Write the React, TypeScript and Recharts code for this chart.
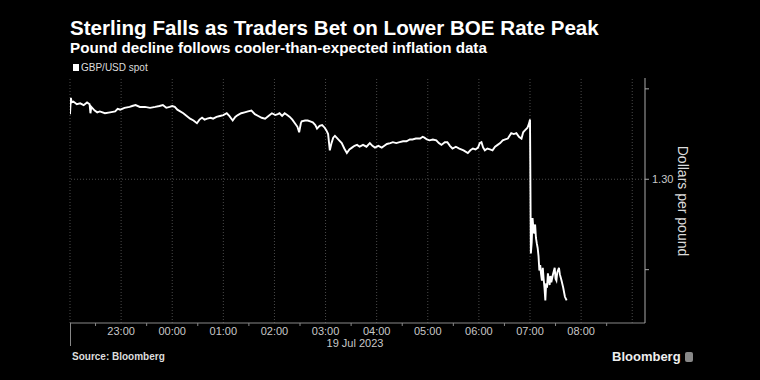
import React from 'react';
import { LineChart, Line, XAxis, YAxis, ReferenceLine } from 'recharts';

// minutes after 22:00 on 18 Jul 2023 (London time)
const minutesFrom2200 = [
  0, 1, 2, 4, 8, 12, 16, 20, 23, 24, 25, 29, 32, 35, 41, 47, 53, 56, 59, 64,
  70, 73, 77, 82, 88, 94, 100, 105, 109, 113, 117, 120, 123, 126, 133, 137, 141, 145, 149, 152,
  155, 158, 161, 165, 168, 172, 176, 180, 184, 187, 191, 194, 197, 201, 205, 209, 213, 217, 221, 225,
  229, 233, 237, 241, 244, 246, 249, 252, 255, 258, 261, 264, 267, 269, 271, 272, 276, 279, 282, 285,
  288, 290, 293, 296, 299, 301, 303, 305, 307, 309, 311, 313, 316, 319, 322, 325, 328, 331, 334, 337,
  340, 344, 348, 352, 355, 358, 362, 366, 369, 372, 376, 379, 383, 387, 391, 395, 399, 402, 406, 411,
  414, 416, 419, 422, 426, 430, 433, 436, 440, 443, 446, 449, 453, 457, 462, 467, 470, 473, 476, 479,
  481, 483, 485, 487, 490, 493, 496, 499, 502, 505, 508, 511, 514, 516, 518, 521, 524, 527, 530, 532,
  534, 536, 537, 539, 540, 541, 542, 543, 544, 545, 546, 547, 548, 549, 550, 551, 552, 553, 554, 555,
  556, 557, 558, 559, 560, 561, 562, 563, 564, 565, 567, 569, 570, 571, 572, 574, 575, 577, 579, 581,
  583,
];

const gbpUsd = [
  1.3072, 1.309, 1.3085, 1.3086, 1.3083, 1.3084, 1.3082, 1.3085, 1.3083, 1.3073, 1.308, 1.3076, 1.3074, 1.3075, 1.3073, 1.3074, 1.3075, 1.3078, 1.3077, 1.3079,
  1.308, 1.3081, 1.3082, 1.308, 1.308, 1.3079, 1.308, 1.3081, 1.3082, 1.3079, 1.308, 1.3081, 1.308, 1.3077, 1.3073, 1.307, 1.3067, 1.3065, 1.3062, 1.3066,
  1.3068, 1.3066, 1.3067, 1.3068, 1.3067, 1.3069, 1.307, 1.3071, 1.3073, 1.307, 1.3065, 1.3069, 1.3071, 1.3073, 1.3074, 1.3075, 1.3076, 1.3072, 1.307, 1.3068,
  1.3067, 1.307, 1.3073, 1.3071, 1.3072, 1.3073, 1.307, 1.3073, 1.3071, 1.3069, 1.3066, 1.3062, 1.3058, 1.3052, 1.3062, 1.3064, 1.3065, 1.3065, 1.3064, 1.3063,
  1.306, 1.3056, 1.3059, 1.306, 1.3057, 1.3054, 1.305, 1.3032, 1.304, 1.3046, 1.3048, 1.3046, 1.3043, 1.304, 1.3034, 1.3029, 1.3033, 1.3035, 1.3037, 1.3038,
  1.3036, 1.3038, 1.3036, 1.304, 1.3037, 1.3035, 1.3037, 1.3035, 1.3037, 1.3039, 1.304, 1.3041, 1.304, 1.3041, 1.3042, 1.3042, 1.3044, 1.3044, 1.3045, 1.3045,
  1.3047, 1.3046, 1.3044, 1.3043, 1.3044, 1.3043, 1.304, 1.3038, 1.3041, 1.3041, 1.3037, 1.3034, 1.3036, 1.3034, 1.3032, 1.3029, 1.3032, 1.3034, 1.3033, 1.3035,
  1.304, 1.3041, 1.3035, 1.3032, 1.3034, 1.3033, 1.3032, 1.3036, 1.3038, 1.304, 1.3043, 1.3044, 1.3045, 1.3048, 1.3051, 1.305, 1.3051, 1.3047, 1.3045, 1.3052,
  1.3054, 1.3056, 1.3057, 1.3062, 1.3066, 1.2918, 1.293, 1.2957, 1.2945, 1.294, 1.295, 1.2935, 1.2929, 1.2924, 1.2915, 1.2899, 1.2905, 1.2895, 1.2888, 1.2902,
  1.289, 1.288, 1.2866, 1.2885, 1.288, 1.2896, 1.289, 1.2883, 1.2893, 1.2886, 1.2895, 1.2902, 1.289, 1.2888, 1.2897, 1.2902, 1.2895, 1.2888, 1.288, 1.287,
  1.2866,
];

const hourGrid = [0, 60, 120, 180, 240, 300, 360, 420, 480, 540, 600, 660];
const xTicks = [30, 60, 90, 120, 150, 180, 210, 240, 270, 300, 330, 360, 390, 420, 450, 480, 510, 540, 570, 600, 630, 660];
const hourLabels: Record<number, string> = {
  60: '23:00', 120: '00:00', 180: '01:00', 240: '02:00', 300: '03:00',
  360: '04:00', 420: '05:00', 480: '06:00', 540: '07:00', 600: '08:00',
};
const yTicks = [1.29, 1.3, 1.31];

const rows = minutesFrom2200.map((t, i) => ({ t, v: gbpUsd[i] }));

const font = '"Liberation Sans", Arial, sans-serif';

function XTick(props: any) {
  const { x, y, payload } = props;
  const label = hourLabels[payload.value];
  if (label) {
    return (
      <text x={x} y={y + 12} textAnchor="middle" fill="#c8c8c8" fontSize={11} fontFamily={font}>
        {label}
      </text>
    );
  }
  if (payload.value % 60 === 30) {
    return <line x1={x} x2={x} y1={y} y2={y + 3} stroke="#888" />;
  }
  return null;
}

function YTick(props: any) {
  const { x, y, payload } = props;
  if (payload.value !== 1.3) return null;
  return (
    <text x={x} y={y + 4} fill="#c8c8c8" fontSize={11} fontFamily={font}>
      1.30
    </text>
  );
}

export default function App() {
  return (
    <div style={{ position: 'fixed', left: 0, top: 0, width: 760, height: 380, background: '#000', overflow: 'hidden', fontFamily: font }}>
      <div style={{ position: 'absolute', left: 70, top: 16, color: '#fff', fontSize: 20.6, fontWeight: 700, whiteSpace: 'nowrap' }}>
        Sterling Falls as Traders Bet on Lower BOE Rate Peak
      </div>
      <div style={{ position: 'absolute', left: 70, top: 39, color: '#fff', fontSize: 15.2, fontWeight: 700, whiteSpace: 'nowrap' }}>
        Pound decline follows cooler-than-expected inflation data
      </div>
      <div style={{ position: 'absolute', left: 73, top: 62, display: 'flex', alignItems: 'center', color: '#ddd', fontSize: 10 }}>
        <span style={{ width: 6, height: 7, background: '#fff', marginRight: 2, display: 'inline-block' }} />
        GBP/USD spot
      </div>

      <LineChart
        width={760}
        height={380}
        data={rows}
        margin={{ top: 78, right: 65, bottom: 27, left: 70 }}
        style={{ position: 'absolute', left: 0, top: 0 }}
      >
        {hourGrid.map((h) => (
          <ReferenceLine key={h} x={h} stroke="#4a4a4a" strokeDasharray="1 2" ifOverflow="extendDomain" />
        ))}
        <ReferenceLine y={1.3} stroke="#4a4a4a" strokeDasharray="1 2" />
        <XAxis
          dataKey="t"
          type="number"
          domain={[0, 675]}
          ticks={xTicks}
          height={30}
          tickSize={0}
          tickMargin={0}
          tick={<XTick />}
          axisLine={{ stroke: '#888' }}
          interval={0}
          allowDataOverflow
        />
        <YAxis
          orientation="right"
          domain={[1.2841, 1.3112]}
          ticks={yTicks}
          width={50}
          tickSize={4}
          tickMargin={3}
          tick={<YTick />}
          axisLine={{ stroke: '#aaa' }}
          tickLine={{ stroke: '#aaa' }}
          allowDataOverflow
          interval={0}
        />
        <Line
          type="linear"
          dataKey="v"
          stroke="#fff"
          strokeWidth={1.9}
          dot={false}
          isAnimationActive={false}
        />
      </LineChart>

      <div style={{ position: 'absolute', left: 70, top: 323, width: 1, height: 23, background: '#888' }} />
      <div style={{ position: 'absolute', left: 355, top: 337, transform: 'translateX(-50%)', color: '#c8c8c8', fontSize: 11, whiteSpace: 'nowrap' }}>
        19 Jul 2023
      </div>
      <div
        style={{
          position: 'absolute', left: 683, top: 201, transform: 'translate(-50%, -50%) rotate(90deg)',
          color: '#ddd', fontSize: 14, whiteSpace: 'nowrap',
        }}
      >
        Dollars per pound
      </div>
      <div style={{ position: 'absolute', left: 72, top: 351, color: '#ddd', fontSize: 10, fontWeight: 700 }}>
        Source: Bloomberg
      </div>
      <div style={{ position: 'absolute', left: 612, top: 349, color: '#eee', fontSize: 13, fontWeight: 700, display: 'flex', alignItems: 'center' }}>
        Bloomberg
        <span style={{ width: 8, height: 10, marginLeft: 4, background: '#888', borderRadius: 2, display: 'inline-block' }} />
      </div>
    </div>
  );
}
